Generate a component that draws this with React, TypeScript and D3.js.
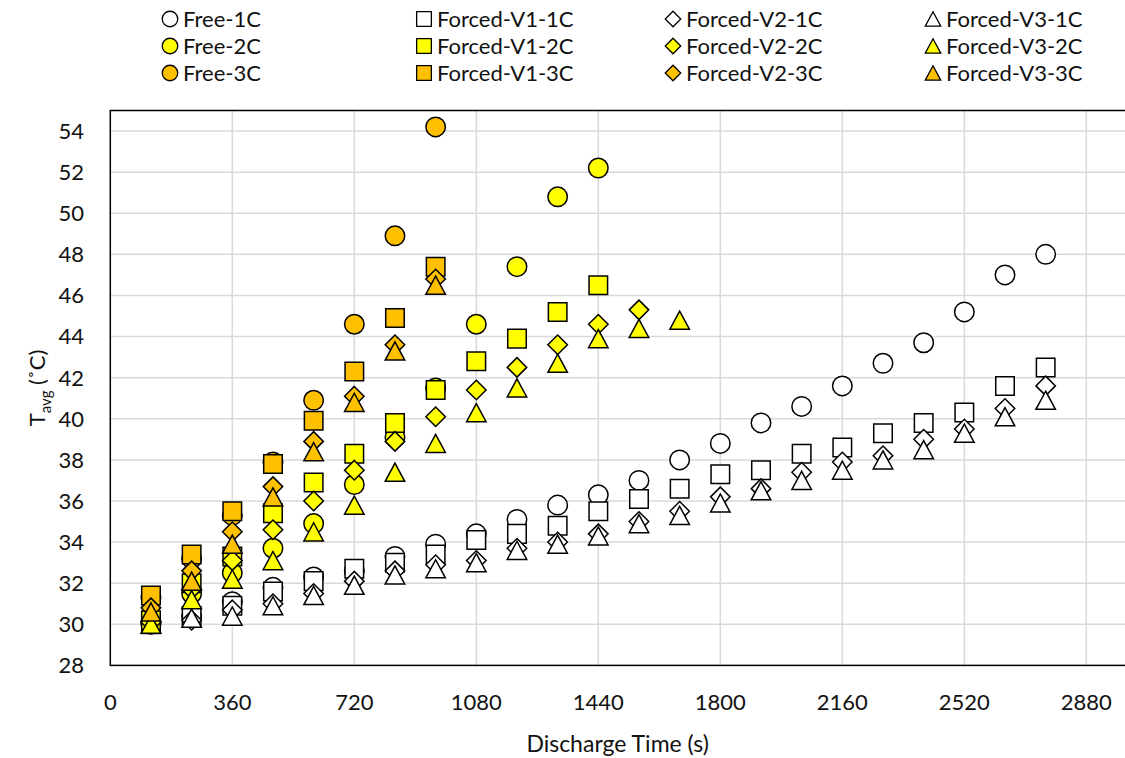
import React from 'react'
import * as d3 from 'd3'

// discharge times (s) shared by every series; shorter runs use the first n
const times = [120, 240, 360, 480, 600, 720, 840, 960, 1080, 1200, 1320, 1440, 1560, 1680, 1800, 1920, 2040, 2160, 2280, 2400, 2520, 2640, 2760]

const free1C = [30.1, 30.4, 31.1, 31.8, 32.3, 32.6, 33.3, 33.9, 34.4, 35.1, 35.8, 36.3, 37.0, 38.0, 38.8, 39.8, 40.6, 41.6, 42.7, 43.7, 45.2, 47.0, 48.0]
const forcedV1_1C = [30.0, 30.4, 30.9, 31.6, 32.1, 32.7, 33.0, 33.4, 34.1, 34.4, 34.8, 35.5, 36.1, 36.6, 37.3, 37.5, 38.3, 38.6, 39.3, 39.8, 40.3, 41.6, 42.5]
const forcedV2_1C = [30.1, 30.2, 30.7, 31.0, 31.5, 32.1, 32.6, 32.9, 33.1, 33.7, 34.0, 34.4, 35.0, 35.5, 36.2, 36.6, 37.4, 37.9, 38.2, 39.0, 39.5, 40.5, 41.6]
const forcedV3_1C = [30.0, 30.3, 30.4, 30.9, 31.4, 31.9, 32.4, 32.7, 33.0, 33.6, 33.9, 34.3, 34.9, 35.3, 35.9, 36.5, 37.0, 37.5, 38.0, 38.5, 39.3, 40.1, 40.9]

const free2C = [30.0, 31.5, 32.5, 33.7, 34.9, 36.8, 39.1, 41.5, 44.6, 47.4, 50.8, 52.2]
const forcedV1_2C = [30.2, 32.0, 33.3, 35.4, 36.9, 38.3, 39.8, 41.4, 42.8, 43.9, 45.2, 46.5]
const forcedV2_2C = [30.1, 31.7, 33.1, 34.6, 36.0, 37.5, 38.9, 40.1, 41.4, 42.5, 43.6, 44.6, 45.3]
const forcedV3_2C = [30.0, 31.2, 32.2, 33.1, 34.5, 35.8, 37.4, 38.8, 40.3, 41.5, 42.7, 43.9, 44.4, 44.8]

const free3C = [31.3, 33.2, 35.3, 37.9, 40.9, 44.6, 48.9, 54.2]
const forcedV1_3C = [31.4, 33.4, 35.5, 37.8, 39.9, 42.3, 44.9, 47.4]
const forcedV2_3C = [30.8, 32.6, 34.5, 36.7, 38.9, 41.1, 43.6, 46.8]
const forcedV3_3C = [30.6, 32.1, 33.9, 36.2, 38.4, 40.8, 43.3, 46.5]

const xTicks = [0, 360, 720, 1080, 1440, 1800, 2160, 2520, 2880]
const yTicks = [28, 30, 32, 34, 36, 38, 40, 42, 44, 46, 48, 50, 52, 54]

const WHITE = '#FFFFFF'
const YELLOW = '#FFFF00'
const ORANGE = '#FFC000'

const series = [
  { name: 'Free-1C', shape: 'circle', fill: WHITE, values: free1C },
  { name: 'Forced-V1-1C', shape: 'square', fill: WHITE, values: forcedV1_1C },
  { name: 'Forced-V2-1C', shape: 'diamond', fill: WHITE, values: forcedV2_1C },
  { name: 'Forced-V3-1C', shape: 'triangle', fill: WHITE, values: forcedV3_1C },
  { name: 'Free-2C', shape: 'circle', fill: YELLOW, values: free2C },
  { name: 'Forced-V1-2C', shape: 'square', fill: YELLOW, values: forcedV1_2C },
  { name: 'Forced-V2-2C', shape: 'diamond', fill: YELLOW, values: forcedV2_2C },
  { name: 'Forced-V3-2C', shape: 'triangle', fill: YELLOW, values: forcedV3_2C },
  { name: 'Free-3C', shape: 'circle', fill: ORANGE, values: free3C },
  { name: 'Forced-V1-3C', shape: 'square', fill: ORANGE, values: forcedV1_3C },
  { name: 'Forced-V2-3C', shape: 'diamond', fill: ORANGE, values: forcedV2_3C },
  { name: 'Forced-V3-3C', shape: 'triangle', fill: ORANGE, values: forcedV3_3C },
]

const W = 1125
const H = 758
const FONT = "Lato, 'Open Sans', sans-serif"
const FS = 22

// marker outline around (0,0), s = full width
function markerPath(shape: string, s: number) {
  const h = s / 2
  const p = d3.path()
  if (shape === 'circle') {
    p.arc(0, 0, h, 0, Math.PI * 2)
  } else if (shape === 'square') {
    p.rect(-h * 0.95, -h * 0.95, s * 0.95, s * 0.95)
  } else if (shape === 'diamond') {
    p.moveTo(0, -h)
    p.lineTo(h, 0)
    p.lineTo(0, h)
    p.lineTo(-h, 0)
  } else {
    p.moveTo(0, -h * 0.93)
    p.lineTo(h, h * 0.93)
    p.lineTo(-h, h * 0.93)
  }
  p.closePath()
  return p.toString()
}

export default function App() {
  const x = d3.scaleLinear().domain([0, 3000]).range([110.3, 1127])
  const y = d3.scaleLinear().domain([28, 55]).range([665.4, 110.5])
  const left = x(0), right = x(3000), top = y(55), bottom = y(28)

  const legendCols = [183, 437, 686, 946]
  const legendRows = [19, 46, 73]

  return (
    <svg width={W} height={H} style={{ position: 'absolute', left: 0, top: 0, display: 'block', background: '#fff' }}
      fontFamily={FONT}>
      {/* grid */}
      {yTicks.filter(t => t > 28).map(t => (
        <line key={'gy' + t} x1={left} x2={right} y1={y(t)} y2={y(t)} stroke="#D9D9D9" strokeWidth={1.5} />
      ))}
      {xTicks.filter(t => t > 0).map(t => (
        <line key={'gx' + t} x1={x(t)} x2={x(t)} y1={top} y2={bottom} stroke="#D9D9D9" strokeWidth={1.5} />
      ))}
      <rect x={left} y={top} width={right - left} height={bottom - top} fill="none" stroke="#000" strokeWidth={1.5} />

      {/* tick labels */}
      {yTicks.map(t => (
        <text key={'ly' + t} x={84} y={y(t)} dy="0.36em" textAnchor="end" fontSize={FS} fill="#111">{t}</text>
      ))}
      {xTicks.map(t => (
        <text key={'lx' + t} x={x(t)} y={702} dy="0.36em" textAnchor="middle" fontSize={FS} fill="#111">{t}</text>
      ))}

      {/* axis titles */}
      <text x={(left + 1125) / 2} y={744} dy="0.36em" textAnchor="middle" fontSize={23} fill="#111">Discharge Time (s)</text>
      <text transform={`translate(37,${(top + bottom) / 2}) rotate(-90)`} textAnchor="middle" dy="0.36em" fontSize={FS} fill="#111">
        T<tspan fontSize={15} dy="6">avg</tspan><tspan dy="-6"> (˚C)</tspan>
      </text>

      {/* points */}
      {series.map(s => (
        <g key={s.name}>
          {s.values.map((v, i) => (
            <path key={i} d={markerPath(s.shape, 19.5)} transform={`translate(${x(times[i])},${y(v)})`}
              fill={s.fill} stroke="#000" strokeWidth={1.5} />
          ))}
        </g>
      ))}

      {/* legend */}
      {series.map((s, i) => {
        const tx = legendCols[i % 4]
        const ty = legendRows[Math.floor(i / 4)]
        return (
          <g key={'lg' + s.name}>
            <path d={markerPath(s.shape, 15.5)} transform={`translate(${tx - 13},${ty})`} fill={s.fill} stroke="#000" strokeWidth={1.3} />
            <text x={tx} y={ty} dy="0.36em" fontSize={FS} fill="#111">{s.name}</text>
          </g>
        )
      })}
    </svg>
  )
}
